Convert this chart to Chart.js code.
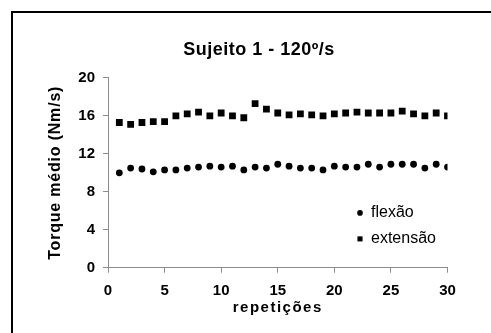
<!DOCTYPE html>
<html>
<head>
<meta charset="utf-8">
<script src="https://cdn.jsdelivr.net/npm/chart.js@4/dist/chart.umd.min.js"></script>
<style>
  html, body { margin: 0; padding: 0; background: #fff; overflow: hidden; }
  #wrap { position: relative; width: 491px; height: 333px; }
  canvas { display: block; }
</style>
</head>
<body>
<div id="wrap"><canvas id="c" width="491" height="333"></canvas></div>
<script>
// ---- data ----
const repeticoes = [1,2,3,4,5,6,7,8,9,10,11,12,13,14,15,16,17,18,19,20,21,22,23,24,25,26,27,28,29,30];
const flexao   = [10.0,10.5,10.4,10.1,10.3,10.3,10.5,10.6,10.7,10.6,10.7,10.3,10.6,10.5,10.9,10.7,10.5,10.5,10.3,10.7,10.6,10.6,10.9,10.6,10.9,10.9,10.9,10.5,10.9,10.6];
const extensao = [15.3,15.1,15.3,15.4,15.4,16.0,16.2,16.4,16.0,16.3,16.0,15.8,17.3,16.7,16.3,16.1,16.2,16.1,16.0,16.2,16.3,16.4,16.3,16.3,16.3,16.5,16.2,16.0,16.3,16.0];
const seriesNames = ['flexão', 'extensão'];
const xTickValues = [0,5,10,15,20,25,30];
const yTickValues = [0,4,8,12,16,20];
const chartTitle = 'Sujeito 1 - 120º/s';
const xTitle = 'repetições';
const yTitle = 'Torque médio (Nm/s)';

const FONT = "'Liberation Sans', Arial, sans-serif";
const toPts = (xs, ys) => xs.map((x, i) => ({ x: x, y: ys[i] }));

const spacing = { x: '1.5px', y: '0.8px', title: '0.5px' };

const spacedText = {
  id: 'spacedText',
  afterLayout(chart) {
    ['x', 'y'].forEach(id => {
      const s = chart.scales[id];
      if (s && !s._spacedWrap) {
        const orig = s.drawTitle;
        s.drawTitle = function () {
          const c = this.ctx; const prev = c.letterSpacing;
          c.letterSpacing = spacing[id];
          orig.apply(this, arguments);
          c.letterSpacing = prev;
        };
        s._spacedWrap = true;
      }
    });
    const t = chart.titleBlock;
    if (t && !t._spacedWrap) {
      const origT = t.draw;
      t.draw = function () {
        const c = this.ctx; const prev = c.letterSpacing;
        c.letterSpacing = spacing.title;
        origT.apply(this, arguments);
        c.letterSpacing = prev;
      };
      t._spacedWrap = true;
    }
  }
};

const frame = {
  id: 'frame',
  beforeDraw(chart) {
    const c = chart.ctx;
    c.save();
    c.fillStyle = '#fff';
    c.fillRect(0, 0, chart.width, chart.height);
    c.fillStyle = '#000';
    c.fillRect(11, 11, chart.width - 11, 2);
    c.fillRect(11, 11, 2, chart.height - 11);
    c.restore();
  }
};

const innerLegend = {
  id: 'innerLegend',
  afterDatasetsDraw(chart) {
    const c = chart.ctx;
    const a = chart.chartArea;
    const x0 = a.left + 252, y0 = a.top + 135, gap = 26;
    c.save();
    c.font = "16px " + FONT;
    c.textBaseline = 'middle';
    c.textAlign = 'left';
    chart.data.datasets.forEach((ds, i) => {
      const y = y0 + i * gap;
      c.fillStyle = '#000';
      c.strokeStyle = '#000';
      Chart.helpers.drawPoint(c, { pointStyle: ds.pointStyle, radius: ds.pointStyle === 'rect' ? 3.6 : 2.8, borderWidth: 0 }, x0, y);
      c.fillText(ds.label, x0 + 11, y);
    });
    c.restore();
  }
};

new Chart(document.getElementById('c'), {
  type: 'scatter',
  data: {
    datasets: [
      { label: seriesNames[0], data: toPts(repeticoes, flexao), pointStyle: 'circle', pointRadius: 3.4, pointHoverRadius: 3.4,
        backgroundColor: '#000', borderColor: '#000', borderWidth: 0 },
      { label: seriesNames[1], data: toPts(repeticoes, extensao), pointStyle: 'rect', pointRadius: 4.8, pointHoverRadius: 4.8,
        backgroundColor: '#000', borderColor: '#000', borderWidth: 0 }
    ]
  },
  options: {
    responsive: false,
    animation: false,
    events: [],
    layout: { padding: { left: 70.5, right: 43.5, top: 0, bottom: 0 } },
    plugins: {
      legend: { display: false },
      tooltip: { enabled: false },
      title: {
        display: true, text: chartTitle, color: '#000',
        font: { family: FONT, size: 18, weight: 'bold', lineHeight: 1.2 },
        padding: { top: 39, bottom: 17.3 }
      }
    },
    scales: {
      x: {
        type: 'linear', min: 0, max: 30,
        afterBuildTicks: s => { s.ticks = xTickValues.map(v => ({ value: v })); },
        afterFit: s => { s.height = 65.3; },
        ticks: { color: '#000', font: { family: FONT, size: 15, weight: 'bold' }, padding: 9, maxRotation: 0 },
        grid: { display: true, drawOnChartArea: false, drawTicks: true, tickLength: 5, color: '#8c8c8c', lineWidth: 1 },
        border: { display: true, color: '#8c8c8c', width: 1 },
        title: { display: true, text: xTitle, color: '#000',
          font: { family: FONT, size: 15, weight: 'bold', lineHeight: 1.2 }, padding: { top: 0, bottom: 16 } }
      },
      y: {
        type: 'linear', min: 0, max: 20,
        afterBuildTicks: s => { s.ticks = yTickValues.map(v => ({ value: v })); },
        afterFit: s => { s.width = 37.5; },
        ticks: { color: '#000', font: { family: FONT, size: 15, weight: 'bold' }, padding: 8 },
        grid: { display: true, drawOnChartArea: false, drawTicks: true, tickLength: 5, color: '#8c8c8c', lineWidth: 1 },
        border: { display: true, color: '#8c8c8c', width: 1 },
        title: { display: true, text: yTitle, color: '#000',
          font: { family: FONT, size: 16, weight: 'bold', lineHeight: 1.2 }, padding: { top: -24.6, bottom: 0 } }
      }
    }
  },
  plugins: [frame, spacedText, innerLegend]
});
</script>
</body>
</html>
